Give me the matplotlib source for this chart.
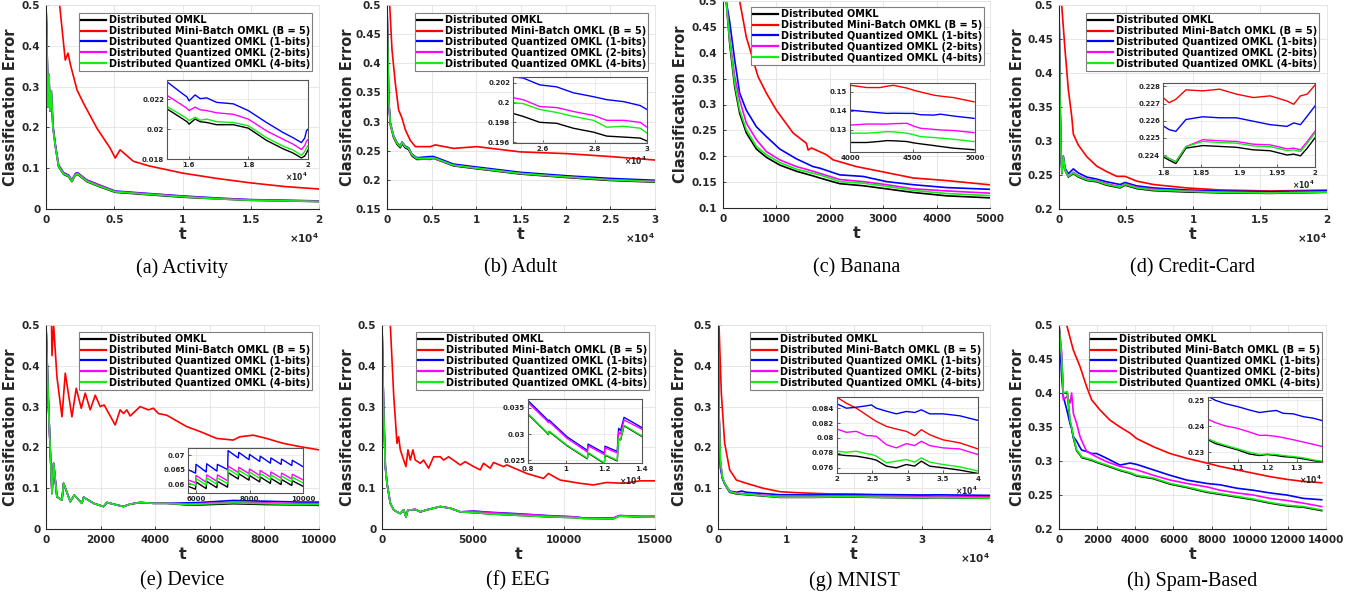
import matplotlib
matplotlib.use("Agg")
import matplotlib.pyplot as plt
from matplotlib.ticker import FuncFormatter, FixedLocator
import numpy as np

W, H = 1364, 602
plt.rcParams['font.family'] = ['DejaVu Sans']
plt.rcParams['font.weight'] = 'bold'
plt.rcParams['mathtext.fontset'] = 'dejavusans'

LABELS = ["Distributed OMKL", "Distributed Mini-Batch OMKL (B = 5)",
          "Distributed Quantized OMKL (1-bits)", "Distributed Quantized OMKL (2-bits)",
          "Distributed Quantized OMKL (4-bits)"]
COLORS = ["#000000", "#ff0000", "#0000ff", "#ff00ff", "#11ee11"]
CAPTIONS = ["(a) Activity", "(b) Adult", "(c) Banana", "(d) Credit-Card",
            "(e) Device", "(f) EEG", "(g) MNIST", "(h) Spam-Based"]

# ---------------- (a) Activity ----------------
A_T = [0, 70, 150, 220, 290, 390, 510, 700, 925, 1290, 1650, 1900, 2150, 2310, 3000, 3970, 5070, 7500, 10000, 12500, 15000, 17500, 20000]
A_OMKL = [0.50, 0.40, 0.25, 0.32, 0.24, 0.28, 0.20, 0.15, 0.103, 0.085, 0.079, 0.067, 0.083, 0.085, 0.067, 0.054, 0.041, 0.035, 0.029, 0.025, 0.0213, 0.0198, 0.0182]
A_Q1 = [0.50, 0.41, 0.25, 0.33, 0.24, 0.29, 0.205, 0.155, 0.108, 0.089, 0.083, 0.071, 0.087, 0.089, 0.071, 0.058, 0.044, 0.038, 0.032, 0.027, 0.0230, 0.0215, 0.0198]
A_Q2 = [0.50, 0.41, 0.25, 0.33, 0.24, 0.29, 0.20, 0.152, 0.106, 0.088, 0.082, 0.070, 0.086, 0.088, 0.070, 0.057, 0.043, 0.037, 0.031, 0.026, 0.0222, 0.0208, 0.0190]
A_Q4 = [0.50, 0.41, 0.25, 0.33, 0.24, 0.29, 0.20, 0.15, 0.104, 0.086, 0.080, 0.068, 0.084, 0.086, 0.068, 0.055, 0.042, 0.036, 0.030, 0.025, 0.0215, 0.0200, 0.0185]
A_MB_T = [700, 1000, 1410, 1610, 1780, 2270, 2750, 3730, 4700, 5070, 5430, 6400, 7500, 10000, 12500, 15000, 17500, 20000]
A_MB = [0.62, 0.50, 0.365, 0.382, 0.355, 0.292, 0.259, 0.198, 0.149, 0.125, 0.145, 0.117, 0.106, 0.088, 0.075, 0.064, 0.055, 0.049]
A_IN_T = [15280, 15720, 15950, 16020, 16220, 16390, 16610, 16940, 17500, 18000, 18610, 19170, 19500, 19780, 19890, 19950, 20000]
A_IN_Q1 = [0.02318, 0.0225, 0.02216, 0.0219, 0.0223, 0.02205, 0.0221, 0.0218, 0.0217, 0.02125, 0.02045, 0.01977, 0.01943, 0.0191, 0.0194, 0.0199, 0.0200]
A_IN_Q2 = [0.02227, 0.0217, 0.0214, 0.02125, 0.02148, 0.0213, 0.02125, 0.0211, 0.0210, 0.02068, 0.01989, 0.01932, 0.0190, 0.01864, 0.0189, 0.0192, 0.0193]
A_IN_Q4 = [0.02152, 0.0210, 0.0207, 0.02057, 0.0208, 0.0206, 0.02068, 0.0205, 0.02045, 0.02023, 0.01943, 0.01886, 0.0186, 0.01825, 0.0185, 0.01875, 0.0189]
A_IN_OMKL = [0.02136, 0.0208, 0.0205, 0.02034, 0.02068, 0.0205, 0.02045, 0.0203, 0.0203, 0.02007, 0.01925, 0.01868, 0.0184, 0.01807, 0.0182, 0.01841, 0.0186]

# ---------------- (b) Adult ----------------
B_T = [0, 190, 370, 750, 1120, 1490, 1680, 2050, 2420, 2800, 3350, 4850, 5220, 7450, 10060, 14900, 20120, 24970, 30000]
B_OMKL = [0.50, 0.335, 0.295, 0.272, 0.261, 0.255, 0.262, 0.255, 0.252, 0.241, 0.235, 0.236, 0.237, 0.224, 0.219, 0.210, 0.204, 0.199, 0.1961]
B_Q1 = [0.50, 0.338, 0.298, 0.275, 0.264, 0.258, 0.265, 0.258, 0.255, 0.244, 0.238, 0.240, 0.240, 0.227, 0.222, 0.213, 0.207, 0.2025, 0.1993]
B_Q2 = [0.50, 0.337, 0.297, 0.274, 0.263, 0.257, 0.264, 0.257, 0.254, 0.243, 0.236, 0.235, 0.237, 0.225, 0.220, 0.211, 0.205, 0.2003, 0.1976]
B_Q4 = [0.50, 0.337, 0.297, 0.274, 0.263, 0.257, 0.264, 0.257, 0.254, 0.243, 0.237, 0.237, 0.238, 0.225, 0.220, 0.211, 0.205, 0.200, 0.1969]
B_MB_T = [0, 300, 560, 930, 1300, 1680, 2050, 2600, 3170, 3730, 4850, 5400, 7450, 10060, 14900, 20120, 24970, 30000]
B_MB = [0.60, 0.50, 0.423, 0.366, 0.320, 0.306, 0.286, 0.268, 0.257, 0.257, 0.257, 0.260, 0.254, 0.257, 0.248, 0.245, 0.240, 0.234]
B_IN_T = [24840, 25230, 25870, 26520, 27160, 27940, 28450, 29100, 29740, 30000]
B_IN_Q1 = [0.2026, 0.2025, 0.2018, 0.2016, 0.2010, 0.2006, 0.2003, 0.2001, 0.1997, 0.1993]
B_IN_Q2 = [0.2005, 0.2003, 0.1996, 0.1995, 0.1991, 0.1987, 0.1982, 0.1982, 0.1980, 0.1975]
B_IN_Q4 = [0.2000, 0.1999, 0.1993, 0.1990, 0.1986, 0.1982, 0.1975, 0.1976, 0.1974, 0.1969]
B_IN_OMKL = [0.1989, 0.1986, 0.1980, 0.1979, 0.1974, 0.1970, 0.1966, 0.1965, 0.1964, 0.1961]

# ---------------- (c) Banana ----------------
C_T = [0, 60, 125, 219, 312, 437, 625, 812, 1062, 1375, 1687, 1812, 2187, 2625, 3062, 3562, 4187, 5000]
C_OMKL = [0.60, 0.50, 0.418, 0.334, 0.283, 0.245, 0.214, 0.198, 0.183, 0.171, 0.162, 0.158, 0.147, 0.143, 0.137, 0.130, 0.1235, 0.1196]
C_Q1 = [0.60, 0.50, 0.46, 0.386, 0.322, 0.289, 0.257, 0.238, 0.214, 0.195, 0.180, 0.177, 0.164, 0.161, 0.151, 0.145, 0.1395, 0.1361]
C_Q2 = [0.60, 0.50, 0.43, 0.354, 0.309, 0.264, 0.232, 0.209, 0.193, 0.180, 0.171, 0.167, 0.155, 0.151, 0.145, 0.137, 0.1330, 0.1286]
C_Q4 = [0.60, 0.50, 0.424, 0.341, 0.289, 0.251, 0.219, 0.203, 0.188, 0.175, 0.167, 0.164, 0.151, 0.148, 0.142, 0.134, 0.1280, 0.1239]
C_MB_T = [0, 312, 437, 656, 812, 1000, 1312, 1562, 1594, 1656, 1937, 2062, 2500, 2937, 3562, 4187, 5000]
C_MB = [0.65, 0.50, 0.43, 0.354, 0.322, 0.289, 0.245, 0.225, 0.212, 0.216, 0.203, 0.193, 0.180, 0.171, 0.158, 0.153, 0.1448]
C_IN_T = [4005, 4134, 4241, 4295, 4348, 4456, 4509, 4563, 4670, 4724, 4831, 4992]
C_IN_MB = [0.1535, 0.1523, 0.1523, 0.1530, 0.1535, 0.1520, 0.1509, 0.1500, 0.1483, 0.1478, 0.1470, 0.1448]
C_IN_Q1 = [0.1404, 0.1396, 0.1390, 0.1387, 0.1388, 0.1387, 0.1387, 0.1380, 0.1378, 0.1383, 0.1373, 0.1361]
C_IN_Q2 = [0.1326, 0.1331, 0.1331, 0.1331, 0.1333, 0.1335, 0.1320, 0.1309, 0.1303, 0.1300, 0.1297, 0.1286]
C_IN_Q4 = [0.1283, 0.1283, 0.1288, 0.1291, 0.1290, 0.1283, 0.1275, 0.1265, 0.1260, 0.1257, 0.1251, 0.1239]
C_IN_OMKL = [0.1234, 0.1234, 0.1240, 0.1244, 0.1243, 0.1239, 0.1232, 0.1227, 0.1218, 0.1213, 0.1204, 0.1196]

# ---------------- (d) Credit-Card ----------------
D_T = [0, 75, 150, 225, 320, 450, 700, 1070, 1445, 2070, 2815, 3560, 4560, 4930, 5800, 7050, 9540, 12030, 15760, 20000]
D_OMKL = [0.50, 0.36, 0.28, 0.252, 0.276, 0.257, 0.247, 0.252, 0.247, 0.242, 0.240, 0.235, 0.231, 0.235, 0.230, 0.227, 0.225, 0.2238, 0.2230, 0.2245]
D_Q1 = [0.50, 0.36, 0.283, 0.255, 0.278, 0.260, 0.252, 0.259, 0.253, 0.247, 0.244, 0.240, 0.236, 0.239, 0.234, 0.231, 0.228, 0.2265, 0.2255, 0.2267]
D_Q2 = [0.50, 0.36, 0.282, 0.253, 0.277, 0.258, 0.248, 0.254, 0.249, 0.244, 0.242, 0.237, 0.233, 0.237, 0.232, 0.229, 0.2265, 0.2248, 0.2238, 0.2250]
D_Q4 = [0.50, 0.36, 0.282, 0.253, 0.277, 0.258, 0.248, 0.253, 0.248, 0.243, 0.241, 0.236, 0.232, 0.236, 0.231, 0.228, 0.226, 0.2245, 0.2235, 0.2248]
D_MB_T = [0, 200, 450, 700, 950, 1070, 1445, 2070, 2815, 3560, 4310, 4930, 5800, 7050, 9540, 12030, 15760, 20000]
D_MB = [0.60, 0.50, 0.434, 0.375, 0.336, 0.31, 0.294, 0.277, 0.263, 0.255, 0.248, 0.248, 0.241, 0.236, 0.231, 0.228, 0.2265, 0.2278]
D_IN_T = [18000, 18080, 18169, 18302, 18523, 18745, 18967, 19188, 19410, 19632, 19720, 19809, 19898, 20000]
D_IN_MB = [0.22735, 0.22705, 0.22725, 0.2278, 0.22774, 0.22784, 0.22755, 0.22735, 0.22745, 0.22715, 0.22696, 0.22745, 0.22755, 0.22808]
D_IN_Q1 = [0.22571, 0.22548, 0.22538, 0.22607, 0.22623, 0.22617, 0.22617, 0.22597, 0.22577, 0.22567, 0.22587, 0.22577, 0.22627, 0.22686]
D_IN_Q2 = [0.2240, 0.2238, 0.22361, 0.22449, 0.22489, 0.22483, 0.22479, 0.22463, 0.22459, 0.22436, 0.2244, 0.2243, 0.22479, 0.22538]
D_IN_Q4 = [0.2240, 0.2238, 0.22361, 0.22449, 0.22479, 0.22473, 0.22469, 0.22453, 0.22449, 0.22426, 0.2243, 0.2242, 0.22469, 0.22528]
D_IN_OMKL = [0.2239, 0.2237, 0.2235, 0.2244, 0.22455, 0.2245, 0.22445, 0.2243, 0.22425, 0.2240, 0.22405, 0.22395, 0.2244, 0.22500]

# ---------------- (e) Device ----------------
E_T = [0, 97, 219, 280, 400, 585, 645, 890, 1035, 1315, 1376, 1742, 2107, 2229, 2594, 2838, 3082, 3447, 3934, 4421, 5152, 5639, 6857, 8075, 9293, 10000]
E_OMKL = [0.50, 0.292, 0.087, 0.161, 0.079, 0.071, 0.112, 0.067, 0.083, 0.063, 0.078, 0.063, 0.055, 0.065, 0.059, 0.055, 0.061, 0.065, 0.063, 0.063, 0.059, 0.059, 0.062, 0.060, 0.059, 0.058]
E_Q1 = [0.50, 0.292, 0.087, 0.161, 0.079, 0.071, 0.112, 0.067, 0.083, 0.063, 0.078, 0.063, 0.055, 0.065, 0.059, 0.055, 0.061, 0.065, 0.063, 0.063, 0.064, 0.065, 0.070, 0.068, 0.066, 0.066]
E_Q2 = [0.50, 0.292, 0.087, 0.161, 0.079, 0.071, 0.112, 0.067, 0.083, 0.063, 0.078, 0.063, 0.055, 0.065, 0.059, 0.055, 0.061, 0.065, 0.063, 0.063, 0.061, 0.062, 0.066, 0.064, 0.062, 0.062]
E_Q4 = [0.50, 0.292, 0.087, 0.161, 0.079, 0.071, 0.112, 0.067, 0.083, 0.063, 0.078, 0.063, 0.055, 0.065, 0.059, 0.055, 0.061, 0.065, 0.063, 0.063, 0.060, 0.061, 0.064, 0.062, 0.060, 0.060]
E_MB_T = [0, 97, 180, 219, 280, 400, 585, 706, 950, 1108, 1291, 1437, 1620, 1803, 1985, 2131, 2533, 2716, 2838, 2960, 3082, 3447, 3751, 3934, 4117, 4421, 5152, 5639, 6248, 6857, 7101, 7588, 8075, 8684, 9293, 10000]
E_MB = [0.60, 0.50, 0.60, 0.425, 0.50, 0.373, 0.275, 0.382, 0.275, 0.345, 0.296, 0.333, 0.292, 0.328, 0.30, 0.304, 0.255, 0.292, 0.283, 0.292, 0.277, 0.30, 0.292, 0.296, 0.283, 0.279, 0.251, 0.239, 0.222, 0.218, 0.226, 0.23, 0.222, 0.21, 0.202, 0.194]
E_IN_T = [5700, 5980, 6000, 6380, 6400, 6780, 6800, 7180, 7200, 7580, 7600, 7980, 8000, 8380, 8400, 8780, 8800, 9180, 9200, 9580, 9600, 10000]
E_IN_Q1 = [0.0650, 0.0638, 0.0668, 0.0642, 0.0670, 0.0645, 0.0668, 0.0650, 0.0715, 0.0690, 0.0709, 0.0684, 0.0702, 0.0678, 0.0696, 0.0672, 0.0690, 0.0668, 0.0686, 0.0664, 0.0682, 0.0660]
E_IN_Q2 = [0.0615, 0.0605, 0.0630, 0.0607, 0.0632, 0.0610, 0.0632, 0.0612, 0.0662, 0.0640, 0.0658, 0.0636, 0.0652, 0.0630, 0.0647, 0.0625, 0.0642, 0.0621, 0.0638, 0.0618, 0.0634, 0.0615]
E_IN_Q4 = [0.0605, 0.0595, 0.0620, 0.0597, 0.0622, 0.0600, 0.0622, 0.0602, 0.0652, 0.0630, 0.0648, 0.0626, 0.0642, 0.0620, 0.0637, 0.0615, 0.0632, 0.0611, 0.0628, 0.0608, 0.0624, 0.0605]
E_IN_OMKL = [0.0593, 0.0583, 0.0608, 0.0585, 0.0610, 0.0588, 0.0610, 0.0590, 0.0640, 0.0618, 0.0636, 0.0614, 0.0630, 0.0608, 0.0625, 0.0603, 0.0620, 0.0599, 0.0616, 0.0596, 0.0612, 0.0593]

# ---------------- (f) EEG ----------------
F_T = [0, 91, 183, 274, 457, 640, 823, 1006, 1189, 1317, 1426, 1646, 1829, 2103, 2469, 2835, 3200, 3750, 4298, 5030, 5944, 7224, 8688, 9000, 10517, 11100, 12346, 12700, 13050, 14175, 15000]
F_OMKL = [0.50, 0.29, 0.153, 0.112, 0.063, 0.047, 0.042, 0.038, 0.047, 0.030, 0.047, 0.047, 0.048, 0.042, 0.047, 0.051, 0.055, 0.051, 0.042, 0.040, 0.037, 0.034, 0.031, 0.030, 0.028, 0.026, 0.025, 0.025, 0.0316, 0.0294, 0.0288]
F_Q1 = [0.50, 0.29, 0.153, 0.112, 0.063, 0.047, 0.042, 0.038, 0.047, 0.030, 0.047, 0.047, 0.048, 0.042, 0.047, 0.051, 0.055, 0.051, 0.042, 0.044, 0.041, 0.038, 0.034, 0.033, 0.030, 0.027, 0.027, 0.027, 0.033, 0.031, 0.031]
F_Q2 = [0.50, 0.29, 0.153, 0.112, 0.063, 0.047, 0.042, 0.038, 0.047, 0.030, 0.047, 0.047, 0.048, 0.042, 0.047, 0.051, 0.055, 0.051, 0.042, 0.043, 0.040, 0.037, 0.0335, 0.0325, 0.0295, 0.0267, 0.0265, 0.0265, 0.0327, 0.0308, 0.0305]
F_Q4 = [0.50, 0.29, 0.153, 0.112, 0.063, 0.047, 0.042, 0.038, 0.047, 0.030, 0.047, 0.047, 0.048, 0.042, 0.047, 0.051, 0.055, 0.051, 0.042, 0.040, 0.037, 0.034, 0.031, 0.030, 0.028, 0.0255, 0.025, 0.025, 0.0317, 0.0295, 0.029]
F_MB_T = [0, 457, 640, 823, 914, 1006, 1189, 1317, 1426, 1554, 1700, 1829, 2103, 2286, 2560, 2835, 3200, 3383, 3658, 4298, 4573, 5030, 5395, 5578, 5944, 6127, 6676, 6858, 7956, 8871, 9145, 9785, 10882, 11614, 12346, 13260, 14175, 15000]
F_MB = [0.65, 0.50, 0.33, 0.21, 0.226, 0.194, 0.169, 0.153, 0.194, 0.169, 0.194, 0.169, 0.161, 0.169, 0.149, 0.177, 0.177, 0.169, 0.177, 0.157, 0.165, 0.153, 0.145, 0.161, 0.149, 0.163, 0.153, 0.157, 0.136, 0.124, 0.136, 0.12, 0.112, 0.108, 0.114, 0.112, 0.118, 0.118]
F_IN_T = [8000, 8982, 9072, 9107, 10054, 11125, 11161, 12018, 12054, 12697, 12769, 12876, 13054, 14019]
F_IN_Q1 = [0.0364, 0.0329, 0.0325, 0.0327, 0.0295, 0.0269, 0.0281, 0.0264, 0.0277, 0.0267, 0.0311, 0.0307, 0.0332, 0.0312]
F_IN_Q2 = [0.0360, 0.0326, 0.0322, 0.0324, 0.0292, 0.0266, 0.0278, 0.0261, 0.0274, 0.0264, 0.0304, 0.0300, 0.0327, 0.0309]
F_IN_Q4 = [0.0339, 0.0304, 0.0300, 0.0306, 0.0279, 0.0254, 0.0265, 0.0245, 0.0261, 0.0250, 0.0292, 0.0290, 0.0317, 0.0296]
F_IN_OMKL = [0.0338, 0.0303, 0.0299, 0.0305, 0.0278, 0.0253, 0.0264, 0.0244, 0.0260, 0.0249, 0.0291, 0.0289, 0.0316, 0.0295]

# ---------------- (g) MNIST ----------------
G_T = [0, 147, 343, 638, 980, 1718, 2700, 3500, 4172, 6626, 9080, 13988, 18900, 25000, 30000, 32500, 40000]
G_OMKL = [0.50, 0.29, 0.165, 0.125, 0.110, 0.090, 0.086, 0.085, 0.084, 0.081, 0.0775, 0.0775, 0.0785, 0.0770, 0.0762, 0.0768, 0.0752]
G_Q1 = [0.50, 0.28, 0.15, 0.125, 0.112, 0.093, 0.090, 0.093, 0.090, 0.087, 0.084, 0.0835, 0.0845, 0.0842, 0.0834, 0.0838, 0.0824]
G_Q2 = [0.50, 0.29, 0.168, 0.128, 0.112, 0.092, 0.088, 0.087, 0.086, 0.083, 0.080, 0.080, 0.0815, 0.0805, 0.0790, 0.0795, 0.0778]
G_Q4 = [0.50, 0.29, 0.169, 0.128, 0.112, 0.0915, 0.087, 0.086, 0.085, 0.0817, 0.078, 0.078, 0.079, 0.0775, 0.0768, 0.0773, 0.0756]
G_MB_T = [0, 147, 490, 980, 1718, 2700, 4172, 6626, 9080, 11534, 13988, 16440, 19877, 23800, 28700, 33620, 40000]
G_MB = [0.60, 0.50, 0.333, 0.21, 0.145, 0.12, 0.112, 0.10, 0.0915, 0.089, 0.0875, 0.086, 0.0855, 0.0835, 0.0815, 0.0800, 0.0785]
G_IN_T = [20000, 21324, 22742, 24160, 24870, 25580, 27000, 28416, 29834, 31016, 31960, 33140, 35035, 37400, 40000]
G_IN_MB = [0.08547, 0.08467, 0.0840, 0.08311, 0.08265, 0.08222, 0.08156, 0.0812, 0.08089, 0.08031, 0.08111, 0.08044, 0.07975, 0.07935, 0.07853]
G_IN_Q1 = [0.08458, 0.0840, 0.08413, 0.08431, 0.08444, 0.0840, 0.0836, 0.08324, 0.08356, 0.08342, 0.08378, 0.08324, 0.08324, 0.08298, 0.08236]
G_IN_Q2 = [0.0812, 0.08076, 0.08089, 0.08031, 0.0803, 0.08022, 0.07911, 0.07867, 0.07924, 0.07898, 0.07956, 0.07898, 0.07867, 0.07853, 0.07778]
G_IN_Q4 = [0.07822, 0.07809, 0.07822, 0.07791, 0.0778, 0.07756, 0.07667, 0.07689, 0.07711, 0.07676, 0.07733, 0.07676, 0.07644, 0.07613, 0.07556]
G_IN_OMKL = [0.07778, 0.07764, 0.07756, 0.07733, 0.0772, 0.07702, 0.07622, 0.0760, 0.07644, 0.07622, 0.07689, 0.07622, 0.0760, 0.07569, 0.07524]

# ---------------- (h) Spam-Based ----------------
H_T = [0, 140, 227, 437, 577, 664, 752, 926, 1101, 1189, 1451, 1713, 1975, 2500, 3199, 3723, 4073, 4947, 5821, 6695, 7744, 8443, 9317, 10190, 11065, 11939, 12813, 13775]
H_OMKL = [0.5, 0.45, 0.40, 0.40, 0.358, 0.348, 0.334, 0.315, 0.309, 0.305, 0.303, 0.301, 0.298, 0.293, 0.286, 0.282, 0.278, 0.274, 0.266, 0.261, 0.254, 0.251, 0.247, 0.243, 0.238, 0.234, 0.232, 0.227]
H_Q1 = [0.5, 0.424, 0.395, 0.372, 0.355, 0.348, 0.336, 0.329, 0.32, 0.316, 0.314, 0.311, 0.311, 0.304, 0.294, 0.297, 0.295, 0.287, 0.279, 0.272, 0.267, 0.265, 0.26, 0.257, 0.253, 0.25, 0.245, 0.243]
H_Q2 = [0.5, 0.46, 0.39, 0.395, 0.385, 0.40, 0.37, 0.355, 0.336, 0.33, 0.314, 0.31, 0.306, 0.299, 0.292, 0.289, 0.287, 0.279, 0.272, 0.267, 0.262, 0.257, 0.253, 0.25, 0.245, 0.242, 0.238, 0.233]
H_Q4 = [0.5, 0.45, 0.40, 0.402, 0.36, 0.35, 0.336, 0.316, 0.31, 0.306, 0.304, 0.302, 0.299, 0.294, 0.287, 0.283, 0.279, 0.275, 0.267, 0.262, 0.255, 0.252, 0.248, 0.244, 0.239, 0.235, 0.233, 0.228]
H_MB_T = [0, 402, 752, 1101, 1451, 1713, 2150, 2675, 3199, 3723, 4073, 4947, 5821, 6695, 7744, 8443, 9317, 10190, 11065, 11939, 12813, 13775]
H_MB = [0.60, 0.50, 0.463, 0.439, 0.409, 0.39, 0.375, 0.36, 0.35, 0.341, 0.333, 0.321, 0.311, 0.304, 0.297, 0.292, 0.287, 0.282, 0.277, 0.273, 0.270, 0.268]
H_IN_T = [10000, 10252, 10595, 11000, 11397, 11740, 12000, 12313, 12542, 12885, 13230, 13573, 13860]
H_IN_Q1 = [0.2516, 0.2500, 0.2487, 0.2476, 0.2463, 0.2453, 0.2457, 0.2461, 0.2450, 0.2448, 0.2437, 0.2431, 0.2422]
H_IN_Q2 = [0.2427, 0.2414, 0.2401, 0.2392, 0.2378, 0.2365, 0.2365, 0.2361, 0.2356, 0.2348, 0.2339, 0.2330, 0.2322]
H_IN_Q4 = [0.2352, 0.2339, 0.2326, 0.2313, 0.2300, 0.2291, 0.2293, 0.2291, 0.2287, 0.2283, 0.2278, 0.2270, 0.2265]
H_IN_OMKL = [0.2348, 0.2333, 0.2322, 0.2309, 0.2293, 0.2287, 0.2291, 0.2287, 0.2283, 0.2280, 0.2274, 0.2267, 0.2263]

# ---------------- layout (pixel boxes: left, right, top, bottom) ----------------
PANELS = [
    dict(rect=(46, 319, 5, 209), xlim=(0, 20000), ylim=(0, 0.5), xt=np.arange(0, 20001, 5000), yt=np.arange(0, 0.51, 0.1), sc=1e4,
         main=[(A_T, A_OMKL), (A_MB_T, A_MB), (A_T, A_Q1), (A_T, A_Q2), (A_T, A_Q4)],
         irect=(167, 308, 80, 159), ixlim=(15280, 20000), iylim=(0.018, 0.0233), ixt=[16000, 18000, 20000], iyt=[0.018, 0.02, 0.022], isc=1e4,
         ins=[(A_IN_T, A_IN_OMKL), None, (A_IN_T, A_IN_Q1), (A_IN_T, A_IN_Q2), (A_IN_T, A_IN_Q4)], leg=(312, 13), ylx=-28),
    dict(rect=(387, 655, 5, 209), xlim=(0, 30000), ylim=(0.15, 0.5), xt=np.arange(0, 30001, 5000), yt=np.arange(0.15, 0.51, 0.05), sc=1e4,
         main=[(B_T, B_OMKL), (B_MB_T, B_MB), (B_T, B_Q1), (B_T, B_Q2), (B_T, B_Q4)],
         irect=(513, 647, 77, 143), ixlim=(24840, 30000), iylim=(0.1959, 0.2026), ixt=[26000, 28000, 30000], iyt=[0.196, 0.198, 0.2, 0.202], isc=1e4,
         ins=[(B_IN_T, B_IN_OMKL), None, (B_IN_T, B_IN_Q1), (B_IN_T, B_IN_Q2), (B_IN_T, B_IN_Q4)], leg=(648, 13), ylx=-32),
    dict(rect=(723, 990, 1, 208), xlim=(0, 5000), ylim=(0.1, 0.5), xt=np.arange(0, 5001, 1000), yt=np.arange(0.1, 0.51, 0.05), sc=1,
         main=[(C_T, C_OMKL), (C_MB_T, C_MB), (C_T, C_Q1), (C_T, C_Q2), (C_T, C_Q4)],
         irect=(850, 975, 83, 152), ixlim=(4000, 5000), iylim=(0.1184, 0.1547), ixt=[4000, 4500, 5000], iyt=[0.13, 0.14, 0.15], isc=1,
         ins=[(C_IN_T, C_IN_OMKL), (C_IN_T, C_IN_MB), (C_IN_T, C_IN_Q1), (C_IN_T, C_IN_Q2), (C_IN_T, C_IN_Q4)], leg=(984, 7), ylx=-35),
    dict(rect=(1059, 1327, 5, 209), xlim=(0, 20000), ylim=(0.2, 0.5), xt=np.arange(0, 20001, 5000), yt=np.arange(0.2, 0.51, 0.05), sc=1e4,
         main=[(D_T, D_OMKL), (D_MB_T, D_MB), (D_T, D_Q1), (D_T, D_Q2), (D_T, D_Q4)],
         irect=(1163, 1315, 83, 167), ixlim=(18000, 20000), iylim=(0.2233, 0.2282), ixt=[18000, 18500, 19000, 19500, 20000], iyt=[0.224, 0.225, 0.226, 0.227, 0.228], isc=1e4,
         ins=[(D_IN_T, D_IN_OMKL), (D_IN_T, D_IN_MB), (D_IN_T, D_IN_Q1), (D_IN_T, D_IN_Q2), (D_IN_T, D_IN_Q4)], leg=(1319, 13), ylx=-34),
    dict(rect=(46, 319, 325, 529), xlim=(0, 10000), ylim=(0, 0.5), xt=np.arange(0, 10001, 2000), yt=np.arange(0, 0.51, 0.1), sc=1,
         main=[(E_T, E_OMKL), (E_MB_T, E_MB), (E_T, E_Q1), (E_T, E_Q2), (E_T, E_Q4)],
         irect=(188, 303, 448, 493), ixlim=(5700, 10000), iylim=(0.0570, 0.0724), ixt=[6000, 8000, 10000], iyt=[0.06, 0.065, 0.07], isc=1,
         ins=[(E_IN_T, E_IN_OMKL), None, (E_IN_T, E_IN_Q1), (E_IN_T, E_IN_Q2), (E_IN_T, E_IN_Q4)], leg=(312, 332), ylx=-28),
    dict(rect=(382, 655, 325, 529), xlim=(0, 15000), ylim=(0, 0.5), xt=np.arange(0, 15001, 5000), yt=np.arange(0, 0.51, 0.1), sc=1,
         main=[(F_T, F_OMKL), (F_MB_T, F_MB), (F_T, F_Q1), (F_T, F_Q2), (F_T, F_Q4)],
         irect=(528, 642, 399, 463), ixlim=(8000, 14000), iylim=(0.0245, 0.0367), ixt=[8000, 10000, 12000, 14000], iyt=[0.025, 0.03, 0.035], isc=1e4,
         ins=[(F_IN_T, F_IN_OMKL), None, (F_IN_T, F_IN_Q1), (F_IN_T, F_IN_Q2), (F_IN_T, F_IN_Q4)], leg=(649, 332), ylx=-27),
    dict(rect=(718, 990, 325, 529), xlim=(0, 40000), ylim=(0, 0.5), xt=np.arange(0, 40001, 10000), yt=np.arange(0, 0.51, 0.1), sc=1e4,
         main=[(G_T, G_OMKL), (G_MB_T, G_MB), (G_T, G_Q1), (G_T, G_Q2), (G_T, G_Q4)],
         irect=(837, 978, 397, 473), ixlim=(20000, 40000), iylim=(0.0753, 0.0855), ixt=[20000, 25000, 30000, 35000, 40000], iyt=[0.076, 0.078, 0.08, 0.082, 0.084], isc=1e4,
         ins=[(G_IN_T, G_IN_OMKL), (G_IN_T, G_IN_MB), (G_IN_T, G_IN_Q1), (G_IN_T, G_IN_Q2), (G_IN_T, G_IN_Q4)], leg=(983, 332), ylx=-31),
    dict(rect=(1059, 1326, 325, 529), xlim=(0, 14000), ylim=(0.2, 0.5), xt=np.arange(0, 14001, 2000), yt=np.arange(0.2, 0.51, 0.05), sc=1,
         main=[(H_T, H_OMKL), (H_MB_T, H_MB), (H_T, H_Q1), (H_T, H_Q2), (H_T, H_Q4)],
         irect=(1208, 1322, 397, 462), ixlim=(10000, 13860), iylim=(0.2262, 0.2513), ixt=[10000, 11000, 12000, 13000], iyt=[0.23, 0.24, 0.25], isc=1e4,
         ins=[(H_IN_T, H_IN_OMKL), None, (H_IN_T, H_IN_Q1), (H_IN_T, H_IN_Q2), (H_IN_T, H_IN_Q4)], leg=(1322, 332), ylx=-34),
]

AXC = "#262626"


def frac(l, r, t, b):
    return [l / W, 1 - b / H, (r - l) / W, (b - t) / H]


def fmt(scale):
    return FuncFormatter(lambda v, p: "%g" % round(v / scale, 6))


fig = plt.figure(figsize=(W / 100, H / 100), dpi=100)

for i, p in enumerate(PANELS):
    l, r, t, b = p['rect']
    ax = fig.add_axes(frac(l, r, t, b))
    for (tt, vv), c, lab in zip(p['main'], COLORS, LABELS):
        ax.plot(tt, vv, color=c, lw=1.2, label=lab)
    ax.set_xlim(*p['xlim'])
    ax.set_ylim(*p['ylim'])
    ax.xaxis.set_major_locator(FixedLocator(p['xt']))
    ax.yaxis.set_major_locator(FixedLocator(np.round(p['yt'], 4)))
    ax.xaxis.set_major_formatter(fmt(p['sc']))
    ax.yaxis.set_major_formatter(FuncFormatter(lambda v, q: "%g" % round(v, 4)))
    ax.grid(True, color="#e3e3e3", lw=0.6)
    ax.set_axisbelow(True)
    for s in ['left', 'bottom']:
        ax.spines[s].set_color(AXC)
        ax.spines[s].set_linewidth(0.8)
    for s in ['top', 'right']:
        ax.spines[s].set_color("#e3e3e3")
        ax.spines[s].set_linewidth(0.6)
    ax.tick_params(direction='in', length=2.5, width=0.6, colors=AXC, labelsize=7.5, pad=4)
    for lb in ax.get_xticklabels() + ax.get_yticklabels():
        lb.set_fontweight('bold')
    aw = r - l
    ah = b - t
    ax.set_xlabel("t", fontsize=11.5, fontweight='bold', color=AXC)
    ax.xaxis.set_label_coords(0.5, -18 / ah)
    ax.set_ylabel("Classification Error", fontsize=10.5, fontweight='bold', color=AXC)
    ax.yaxis.set_label_coords(p['ylx'] / aw, 0.5)
    if p['sc'] != 1:
        ax.text(1.0, -29 / ah, r"$\times\mathbf{10^{4}}$", transform=ax.transAxes,
                ha='right', va='center', fontsize=7.5, color=AXC)
    lx, ly = p['leg']
    leg = ax.legend(loc='upper right', bbox_to_anchor=(lx / W, 1 - ly / H), bbox_transform=fig.transFigure,
                    prop={'weight': 'bold', 'size': 7}, handlelength=2.6, handletextpad=0.25,
                    labelspacing=0.1, borderpad=0.2, borderaxespad=0, fancybox=False, framealpha=1)
    leg.get_frame().set_edgecolor("#7f7f7f")
    leg.get_frame().set_linewidth(0.8)
    for ln in leg.get_lines():
        ln.set_linewidth(1.6)
    # caption
    cy = 268 if i < 4 else 581
    fig.text((l + r) / 2 / W, 1 - cy / H, CAPTIONS[i], ha='center', va='center',
             fontsize=14.5, fontweight='normal', family=['Liberation Serif', 'DejaVu Serif'], color='black')

    # inset
    il, ir, it, ib = p['irect']
    ia = fig.add_axes(frac(il, ir, it, ib))
    for ser, c in zip(p['ins'], COLORS):
        if ser is not None:
            ia.plot(ser[0], ser[1], color=c, lw=1.0)
    ia.set_xlim(*p['ixlim'])
    ia.set_ylim(*p['iylim'])
    ia.xaxis.set_major_locator(FixedLocator(p['ixt']))
    ia.yaxis.set_major_locator(FixedLocator(p['iyt']))
    ia.xaxis.set_major_formatter(fmt(p['isc']))
    ia.yaxis.set_major_formatter(FuncFormatter(lambda v, q: "%g" % round(v, 5)))
    ia.grid(True, color="#e3e3e3", lw=0.5)
    ia.set_axisbelow(True)
    for s in ia.spines.values():
        s.set_color("#555555")
        s.set_linewidth(0.8)
    ia.tick_params(direction='in', length=2, width=0.5, colors=AXC, labelsize=5, pad=2)
    for lb in ia.get_xticklabels() + ia.get_yticklabels():
        lb.set_fontweight('bold')
    if p['isc'] != 1:
        ia.text(1.0, -18 / (ib - it), r"$\times\mathbf{10^{4}}$", transform=ia.transAxes,
                ha='right', va='center', fontsize=5.5, color=AXC)

fig.savefig("out.png", dpi=100, facecolor='white')
